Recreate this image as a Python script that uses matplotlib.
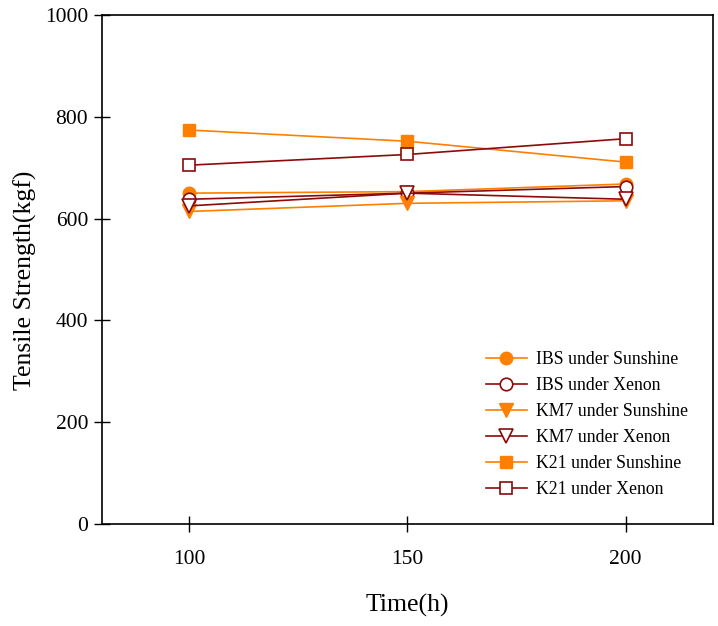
import matplotlib
matplotlib.use("Agg")
import matplotlib.pyplot as plt

plt.rcParams['font.family'] = ['Liberation Serif', 'DejaVu Serif']

time_h = [100, 150, 200]

ibs_sunshine = [650, 653, 668]
ibs_xenon = [638, 650, 663]
km7_sunshine = [614, 630, 635]
km7_xenon = [625, 650, 638]
k21_sunshine = [774, 752, 711]
k21_xenon = [705, 726, 757]

orange = "#FF8000"
darkred = "#8B0A0A"

fig = plt.figure(figsize=(7.18, 6.26), dpi=100)
ax = fig.add_axes([0.142, 0.163, 0.851, 0.813])

ax.plot(time_h, ibs_sunshine, color=orange, marker="o", ms=9, mfc=orange,
        mec=orange, lw=1.2, label="IBS under Sunshine")
ax.plot(time_h, ibs_xenon, color=darkred, marker="o", ms=9, mfc="white",
        mec=darkred, mew=1.2, lw=1.2, label="IBS under Xenon")
ax.plot(time_h, km7_sunshine, color=orange, marker="v", ms=10, mfc=orange,
        mec=orange, lw=1.2, label="KM7 under Sunshine")
ax.plot(time_h, km7_xenon, color=darkred, marker="v", ms=10, mfc="white",
        mec=darkred, mew=1.2, lw=1.2, label="KM7 under Xenon")
ax.plot(time_h, k21_sunshine, color=orange, marker="s", ms=8.5, mfc=orange,
        mec=orange, lw=1.2, label="K21 under Sunshine")
ax.plot(time_h, k21_xenon, color=darkred, marker="s", ms=8.5, mfc="white",
        mec=darkred, mew=1.2, lw=1.2, label="K21 under Xenon")

ax.set_xlim(80, 220)
ax.set_ylim(0, 1000)
ax.set_xticks(time_h)
ax.set_yticks([0, 200, 400, 600, 800, 1000])
ax.tick_params(direction="inout", length=12, width=1, labelsize=15.5, pad=13)
ax.tick_params(axis="y", pad=4)
for sp in ax.spines.values():
    sp.set_linewidth(1.2)

ax.set_xlabel("Time(h)", fontsize=18.5, labelpad=18)
ax.set_ylabel("Tensile Strength(kgf)", fontsize=18.5)
ax.yaxis.set_label_coords(-0.106, 0.478)

ax.legend(loc="lower right", bbox_to_anchor=(0.985, 0.02), frameon=False,
          fontsize=12.8, handlelength=2.3, labelspacing=0.5,
          handletextpad=0.5)

plt.savefig("out.png", dpi=100)
